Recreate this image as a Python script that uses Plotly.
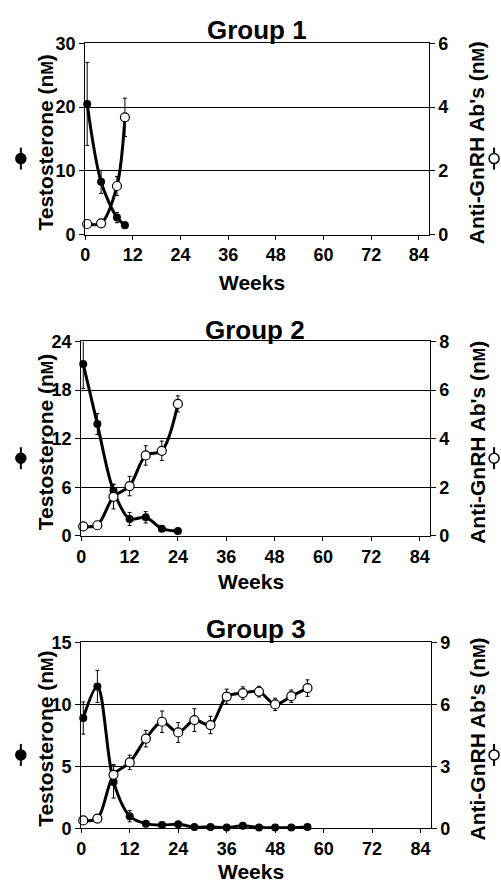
import plotly.graph_objects as go

W, H = 501, 892

# ---- data ----
weeks_g1 = [0.5, 4, 8, 10]
testo_g1 = [20.5, 8.3, 2.7, 1.5]
testo_err_g1 = [6.5, 1.8, 0.8, 0.5]
ab_g1 = [0.34, 0.36, 1.53, 3.68]
ab_err_g1 = [0.0, 0.0, 0.3, 0.6]

weeks_g2 = [0.5, 4, 8, 12, 16, 20, 24]
testo_g2 = [21.2, 13.8, 5.6, 2.1, 2.3, 0.9, 0.6]
testo_err_g2 = [3.0, 1.3, 0.8, 0.8, 0.7, 0.2, 0.2]
ab_g2 = [0.39, 0.44, 1.61, 2.05, 3.31, 3.5, 5.43]
ab_err_g2 = [0.0, 0.0, 0.5, 0.4, 0.4, 0.4, 0.33]

weeks_g3 = [0.5, 4, 8, 12, 16, 20, 24, 28, 32, 36, 40, 44, 48, 52, 56]
testo_g3 = [8.9, 11.45, 3.74, 0.97, 0.37, 0.26, 0.32, 0.1, 0.1, 0.05, 0.2, 0.05, 0.05, 0.05, 0.1]
testo_err_g3 = [1.3, 1.3, 1.3, 0.45, 0.1, 0.1, 0.1, 0.05, 0.05, 0.05, 0.05, 0.05, 0.05, 0.05, 0.05]
ab_g3 = [0.38, 0.47, 2.59, 3.19, 4.34, 5.16, 4.64, 5.24, 5.0, 6.38, 6.55, 6.62, 6.0, 6.4, 6.79]
ab_err_g3 = [0.0, 0.0, 0.5, 0.35, 0.4, 0.52, 0.48, 0.55, 0.42, 0.36, 0.3, 0.26, 0.3, 0.3, 0.4]

x_ticks = [0, 12, 24, 36, 48, 60, 72, 84]
left_ticks = [[0, 10, 20, 30], [0, 6, 12, 18, 24], [0, 5, 10, 15]]
right_ticks = [[0, 2, 4, 6], [0, 2, 4, 6, 8], [0, 3, 6, 9]]
titles = ["Group 1", "Group 2", "Group 3"]

groups = [
    (weeks_g1, testo_g1, testo_err_g1, ab_g1, ab_err_g1),
    (weeks_g2, testo_g2, testo_err_g2, ab_g2, ab_err_g2),
    (weeks_g3, testo_g3, testo_err_g3, ab_g3, ab_err_g3),
]

# ---- layout geometry (pixels) ----
panels = [
    dict(x0=81, x1=428, top=34, bot=230, title_y=20, weeks_y=279),
    dict(x0=77, x1=429, top=339, bot=538, title_y=327, weeks_y=585),
    dict(x0=77, x1=430, top=647, bot=837, title_y=633, weeks_y=881),
]

FONT = "Liberation Sans, Arial, Helvetica, sans-serif"

def px(x):
    return x / W

def py(y):
    return (H - y) / H

fig = go.Figure()
layout = dict(
    width=W, height=H, margin=dict(l=0, r=0, t=0, b=0),
    paper_bgcolor="white", plot_bgcolor="white", showlegend=False,
    font=dict(family=FONT, color="black"),
)
annotations = []
shapes = []

for i, (g, p) in enumerate(zip(groups, panels)):
    wk, te, tee, ab, abe = g
    xa = f"x{i+1}" if i else "x"
    yl = f"y{2*i+1}" if i else "y"
    yr = f"y{2*i+2}"
    xkey = f"xaxis{i+1}" if i else "xaxis"
    ylkey = f"yaxis{2*i+1}" if i else "yaxis"
    yrkey = f"yaxis{2*i+2}"

    fig.add_trace(go.Scatter(
        x=wk, y=te, xaxis=xa, yaxis=yl, mode="lines+markers",
        line=dict(color="black", width=3, shape="spline", smoothing=0.9),
        marker=dict(symbol="circle", size=8, color="black"),
        error_y=dict(type="data", array=tee, color="black", thickness=1, width=2),
        cliponaxis=False,
    ))
    fig.add_trace(go.Scatter(
        x=wk, y=ab, xaxis=xa, yaxis=yr, mode="lines+markers",
        line=dict(color="black", width=3, shape="spline", smoothing=0.9),
        marker=dict(symbol="circle", size=9, color="white",
                    line=dict(color="black", width=1.2)),
        error_y=dict(type="data", array=abe, color="black", thickness=1, width=2),
        cliponaxis=False,
    ))

    dom_y = [py(p["bot"]), py(p["top"])]
    tickfont = dict(family=FONT, size=18, color="black", weight="bold")
    layout[xkey] = dict(
        domain=[px(p["x0"]), px(p["x1"])], anchor=yl, range=[0, 86.5],
        tickvals=x_ticks, ticks="outside", ticklen=4, tickcolor="black",
        showline=True, linecolor="black", linewidth=1, mirror=True,
        showgrid=False, zeroline=False, tickfont=tickfont,
    )
    ltop = left_ticks[i][-1]
    rtop = right_ticks[i][-1]
    layout[ylkey] = dict(
        domain=dom_y, anchor=xa, range=[0, ltop], tickvals=left_ticks[i],
        ticks="outside", ticklen=5, tickcolor="black",
        showline=True, linecolor="black", linewidth=1,
        showgrid=True, gridcolor="black", gridwidth=1, zeroline=False,
        tickfont=tickfont,
    )
    layout[yrkey] = dict(
        overlaying=yl, side="right", anchor=xa, range=[0, rtop],
        tickvals=right_ticks[i], ticks="outside", ticklen=5, tickcolor="black",
        showline=True, linecolor="black", linewidth=1,
        showgrid=False, zeroline=False, tickfont=tickfont,
    )

    cx = (p["x0"] + p["x1"]) / 2
    cy = (p["top"] + p["bot"]) / 2
    annotations.append(dict(
        text=titles[i], x=px(cx), y=py(p["title_y"]), xref="paper", yref="paper",
        showarrow=False, xanchor="center", yanchor="middle",
        font=dict(family=FONT, size=26, color="black", weight="bold"),
    ))
    annotations.append(dict(
        text="Weeks", x=px(cx - 5), y=py(p["weeks_y"]), xref="paper", yref="paper",
        showarrow=False, xanchor="center", yanchor="middle",
        font=dict(family=FONT, size=21, color="black", weight="bold"),
    ))
    annotations.append(dict(
        text="Testosterone (n<span style='font-size:16px'>M</span>)",
        x=px(41), y=py(cy + 4), xref="paper", yref="paper", textangle=-90,
        showarrow=False, xanchor="center", yanchor="middle",
        font=dict(family=FONT, size=21, color="black", weight="bold"),
    ))
    annotations.append(dict(
        text="Anti-GnRH Ab's (n<span style='font-size:16px'>M</span>)",
        x=px(477), y=py(cy + 4), xref="paper", yref="paper", textangle=-90,
        showarrow=False, xanchor="center", yanchor="middle",
        font=dict(family=FONT, size=21, color="black", weight="bold"),
    ))
    # legend glyphs beside the axis titles
    for gx, fill in ((16, "black"), (494, "white")):
        shapes.append(dict(
            type="line", xref="paper", yref="paper", xsizemode="pixel", ysizemode="pixel",
            xanchor=px(gx), yanchor=py(cy + 20), x0=0, x1=0, y0=-11, y1=11,
            line=dict(color="black", width=2),
        ))
        shapes.append(dict(
            type="circle", xref="paper", yref="paper", xsizemode="pixel", ysizemode="pixel",
            xanchor=px(gx), yanchor=py(cy + 20), x0=-5, x1=5, y0=-5, y1=5,
            fillcolor=fill, line=dict(color="black", width=1.5),
        ))

layout["annotations"] = annotations
layout["shapes"] = shapes
fig.update_layout(**layout)
fig.write_html("out.html")
